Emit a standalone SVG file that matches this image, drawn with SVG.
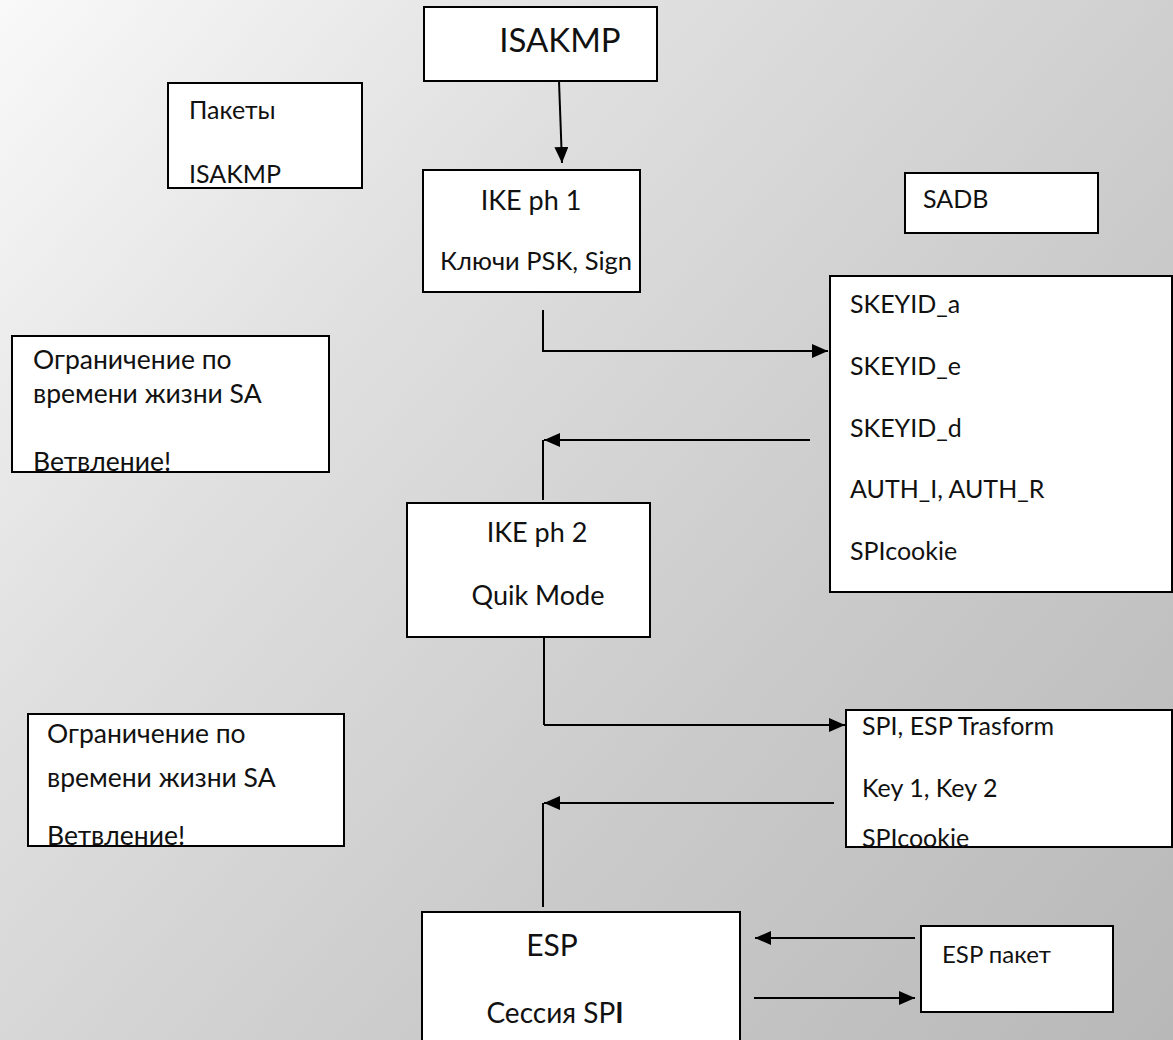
<svg xmlns="http://www.w3.org/2000/svg" width="1173" height="1040" viewBox="0 0 1173 1040">
<defs>
<linearGradient id="bg" gradientUnits="userSpaceOnUse" x1="0" y1="0" x2="1173" y2="1040">
<stop offset="0" stop-color="#f9f9f9"/>
<stop offset="0.3" stop-color="#e0e0e0"/>
<stop offset="0.65" stop-color="#cacaca"/>
<stop offset="1" stop-color="#b8b8b8"/>
</linearGradient>
<marker id="ah" markerUnits="userSpaceOnUse" markerWidth="18" markerHeight="14" refX="16" refY="7" orient="auto">
<path d="M0,0 L16,7 L0,14 Z" fill="#000"/>
</marker>
</defs>
<style>
.box{fill:#fff;stroke:#000;stroke-width:2}
.t{font-family:Lato,"Open Sans","Liberation Sans",sans-serif;fill:#111}
.s25{font-size:25px}
.s26{font-size:26.5px}
.s27{font-size:27px}
.big{font-size:33px}
.c{text-anchor:middle}
.ln{fill:none;stroke:#000;stroke-width:2}
.ar{fill:none;stroke:#000;stroke-width:2;marker-end:url(#ah)}
</style>
<rect width="1173" height="1040" fill="url(#bg)"/>

<g id="isakmp">
<rect class="box" x="424" y="7" width="233" height="74"/>
<text class="t big c" x="560" y="52">ISAKMP</text>
</g>
<g id="pakety">
<rect class="box" x="168" y="83" width="194" height="105"/>
<text class="t s25" x="189" y="119">Пакеты</text>
<text class="t s25" x="189" y="183">ISAKMP</text>
</g>
<g id="ike1">
<rect class="box" x="423" y="170" width="217" height="122"/>
<text class="t s27 c" x="531" y="210">IKE ph 1</text>
<text class="t" font-size="25.5" x="440" y="270">Ключи PSK, Sign</text>
</g>
<g id="sadb">
<rect class="box" x="905" y="173" width="193" height="60"/>
<text class="t s25" x="923" y="208">SADB</text>
</g>
<g id="skeyid">
<rect class="box" x="830" y="276" width="342" height="316"/>
<text class="t s25" x="850" y="313">SKEYID_a</text>
<text class="t s25" x="850" y="375">SKEYID_e</text>
<text class="t s25" x="850" y="437">SKEYID_d</text>
<text class="t s25" x="850" y="498">AUTH_I, AUTH_R</text>
<text class="t s25" x="850" y="560">SPIcookie</text>
</g>
<g id="limit1">
<rect class="box" x="12" y="336" width="317" height="136"/>
<text class="t s26" x="33" y="369">Ограничение по</text>
<text class="t s26" x="33" y="403">времени жизни SA</text>
<text class="t s26" x="33" y="471">Ветвление!</text>
</g>
<g id="ike2">
<rect class="box" x="407" y="503" width="243" height="134"/>
<text class="t s27 c" x="537" y="542">IKE ph 2</text>
<text class="t s27 c" x="538" y="605">Quik Mode</text>
</g>
<g id="spi">
<rect class="box" x="846" y="710" width="326" height="137"/>
<text class="t s25" x="862" y="735">SPI, ESP Trasform</text>
<text class="t s25" x="862" y="797">Key 1, Key 2</text>
<text class="t s25" x="862" y="847">SPIcookie</text>
</g>
<g id="limit2">
<rect class="box" x="28" y="714" width="316" height="132"/>
<text class="t s26" x="47" y="743">Ограничение по</text>
<text class="t s26" x="47" y="787">времени жизни SA</text>
<text class="t s26" x="47" y="845">Ветвление!</text>
</g>
<g id="esp">
<rect class="box" x="422" y="912" width="318" height="140"/>
<text class="t c" font-size="30" x="552" y="956">ESP</text>
<text class="t c" font-size="28" x="555" y="1023">Сессия SP<tspan font-weight="bold">I</tspan></text>
</g>
<g id="esppacket">
<rect class="box" x="921" y="926" width="192" height="86"/>
<text class="t" font-size="24" x="942" y="963">ESP пакет</text>
</g>

<g id="connectors">
<path class="ar" d="M559,81 L562,163"/>
<path class="ar" d="M543,310 L543,351 L828,351"/>
<path class="ln" d="M543,440 L543,500"/>
<path class="ar" d="M810,440 L544,440"/>
<path class="ln" d="M544,637 L544,725"/>
<path class="ar" d="M544,725 L845,725"/>
<path class="ln" d="M543,803 L543,907"/>
<path class="ar" d="M834,803 L544,803"/>
<path class="ar" d="M915,938 L755,938"/>
<path class="ar" d="M754,998 L915,998"/>
</g>
</svg>
